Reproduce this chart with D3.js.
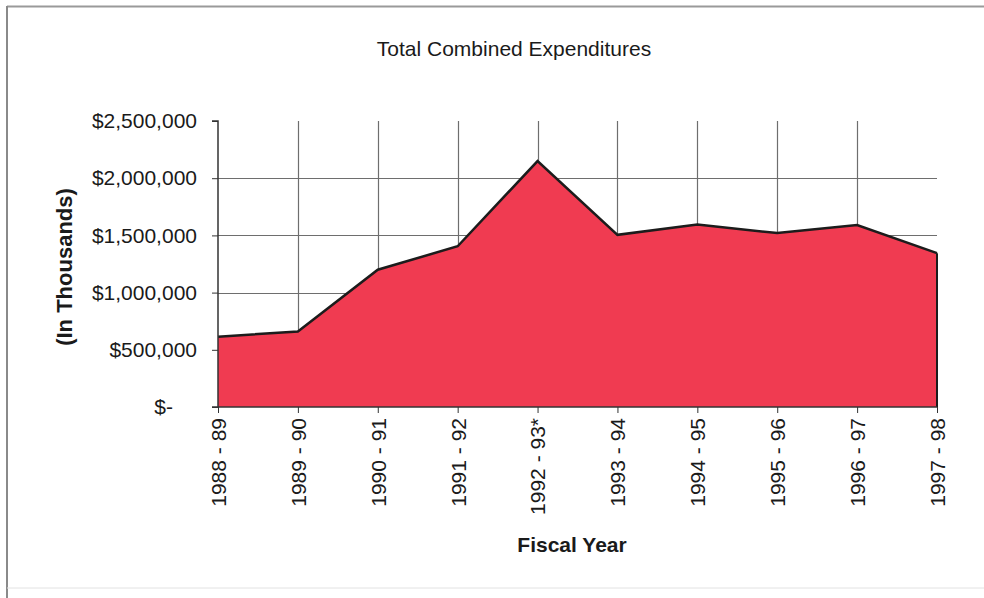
<!DOCTYPE html>
<html>
<head>
<meta charset="utf-8">
<script src="https://cdn.jsdelivr.net/npm/d3@7"></script>
<style>
  html, body { margin: 0; padding: 0; background: #fff; }
  svg { display: block; }
  text { font-family: "Liberation Sans", Arial, sans-serif; fill: #1a1a1a; }
</style>
</head>
<body>
<svg id="chart" width="984" height="598"></svg>
<script>
// Fiscal years and total combined expenditures (in thousands of dollars)
const fiscalYears = ["1988 - 89", "1989 - 90", "1990 - 91", "1991 - 92", "1992 - 93*",
                     "1993 - 94", "1994 - 95", "1995 - 96", "1996 - 97", "1997 - 98"];
const expenditures = [615000, 660000, 1200000, 1405000, 2150000,
                      1505000, 1595000, 1520000, 1590000, 1345000];
const yTicks = [0, 500000, 1000000, 1500000, 2000000, 2500000];

const svg = d3.select("#chart");
const W = 984, H = 598;
const plot = { left: 218, right: 937, top: 121, bottom: 407 };

// Outer frame (top and left edges)
svg.append("line").attr("x1", 7).attr("x2", W).attr("y1", 6.5).attr("y2", 6.5)
  .attr("stroke", "#9a9a9a").attr("stroke-width", 2);
svg.append("line").attr("x1", 7).attr("x2", 7).attr("y1", 6).attr("y2", H)
  .attr("stroke", "#8a8a8a").attr("stroke-width", 2);
svg.append("line").attr("x1", 7).attr("x2", W).attr("y1", 588).attr("y2", 588)
  .attr("stroke", "#e2e2e2").attr("stroke-width", 1);

const x = d3.scalePoint().domain(fiscalYears).range([plot.left, plot.right]);
const y = d3.scaleLinear().domain([0, 2500000]).range([plot.bottom, plot.top]);

// Title
svg.append("text").attr("x", 514).attr("y", 56).attr("text-anchor", "middle")
  .style("font-size", "21px").text("Total Combined Expenditures");

// Gridlines
const grid = svg.append("g").attr("stroke", "#6e6e6e").attr("stroke-width", 1.2);
grid.selectAll("line.h").data(yTicks.filter(v => v > 0 && v < 2500000)).join("line")
  .attr("class", "h")
  .attr("x1", plot.left).attr("x2", plot.right)
  .attr("y1", d => Math.round(y(d)) + 0.5).attr("y2", d => Math.round(y(d)) + 0.5);
grid.selectAll("line.v").data(fiscalYears.slice(1, -1)).join("line")
  .attr("class", "v")
  .attr("x1", d => Math.round(x(d)) + 0.5).attr("x2", d => Math.round(x(d)) + 0.5)
  .attr("y1", plot.top).attr("y2", plot.bottom);

// Area
const area = d3.area()
  .x((d, i) => x(fiscalYears[i]))
  .y0(y(0))
  .y1(d => y(d));
svg.append("path").datum(expenditures)
  .attr("d", area)
  .attr("fill", "#F03B51");
const line = d3.line()
  .x((d, i) => x(fiscalYears[i]))
  .y(d => y(d));
svg.append("path").datum(expenditures)
  .attr("d", line)
  .attr("fill", "none")
  .attr("stroke", "#1c1c1c")
  .attr("stroke-width", 2.5)
  .attr("stroke-linejoin", "miter");
// right edge of the area
const lastX = x(fiscalYears[fiscalYears.length - 1]);
svg.append("line")
  .attr("x1", lastX).attr("x2", lastX)
  .attr("y1", y(expenditures[expenditures.length - 1])).attr("y2", y(0))
  .attr("stroke", "#1c1c1c").attr("stroke-width", 2);

// Y axis
const fmt = d => d === 0 ? "$-" : "$" + d3.format(",")(d);
const yAxis = svg.append("g").attr("transform", `translate(${plot.left},0)`)
  .call(d3.axisLeft(y).tickValues(yTicks).tickFormat(fmt).tickSize(6).tickPadding(15));
yAxis.select(".domain").attr("stroke", "#333").attr("stroke-width", 1.5)
  .attr("d", `M-6,${plot.top}H0V${plot.bottom}H-6`);
yAxis.selectAll(".tick line").attr("stroke", "#333");
yAxis.selectAll(".tick text").style("font-size", "21px").attr("fill", "#1a1a1a")
  .attr("font-family", "Liberation Sans, Arial, sans-serif")
  .attr("dx", d => d === 0 ? -24 : 0);

// X axis
const xAxis = svg.append("g").attr("transform", `translate(0,${plot.bottom})`)
  .call(d3.axisBottom(x).tickSize(6).tickPadding(8));
xAxis.select(".domain").attr("stroke", "#333").attr("stroke-width", 1.5)
  .attr("d", `M${plot.left},0H${plot.right}`);
xAxis.selectAll(".tick line").attr("stroke", "#333");
xAxis.selectAll(".tick text")
  .style("font-size", "21px").attr("fill", "#1a1a1a")
  .attr("font-family", "Liberation Sans, Arial, sans-serif")
  .attr("transform", "rotate(-90)")
  .attr("text-anchor", "end")
  .attr("x", -11).attr("y", 0).attr("dy", "0.35em");

// Axis titles
svg.append("text").attr("transform", "translate(72,267) rotate(-90)")
  .attr("text-anchor", "middle").style("font-size", "22px").style("font-weight", "bold")
  .text("(In Thousands)");
svg.append("text").attr("x", 572).attr("y", 552).attr("text-anchor", "middle")
  .style("font-size", "21px").style("font-weight", "bold").text("Fiscal Year");
</script>
</body>
</html>
